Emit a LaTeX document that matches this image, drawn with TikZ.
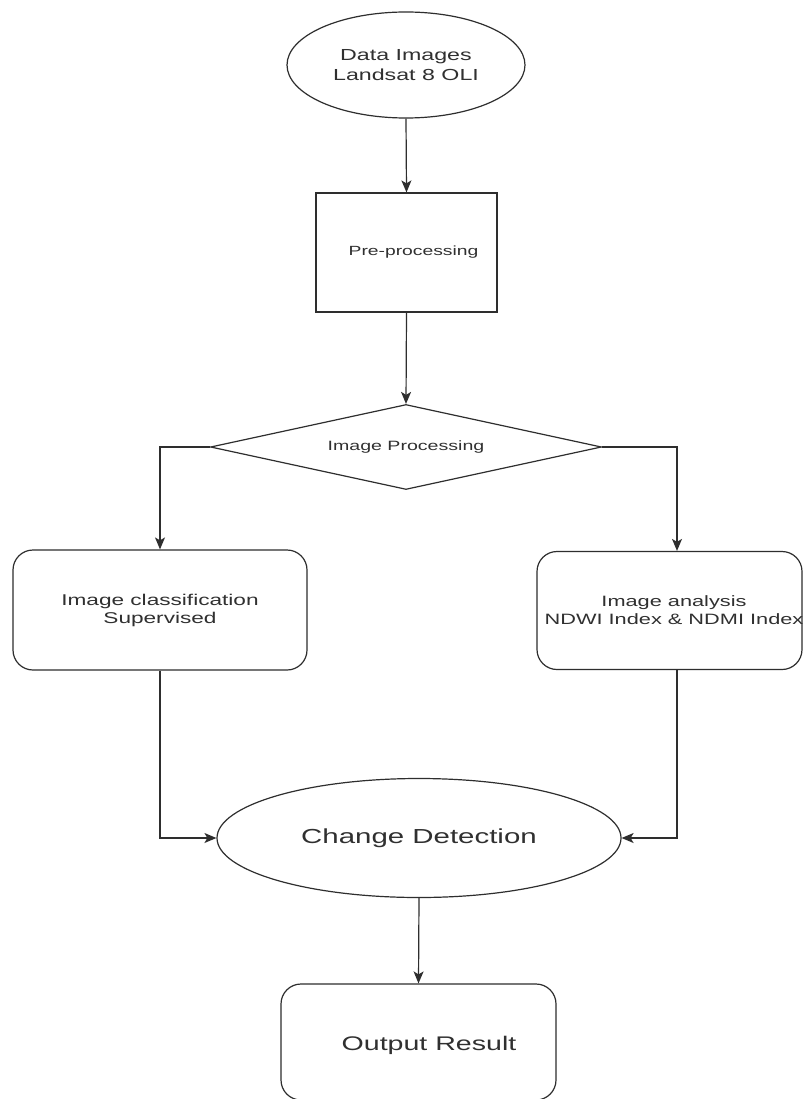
\documentclass[tikz,border=0pt]{standalone}
\usepackage{fontspec}
\setmainfont{Liberation Sans}[FakeStretch=1.45]
\usetikzlibrary{shapes.geometric,arrows.meta}
\definecolor{ink}{HTML}{2E2E2E}
\definecolor{txt}{HTML}{303030}
\tikzset{
  shp/.style={draw=ink, line width=1.2pt, fill=white, inner sep=0pt, text=txt, align=center},
  ell/.style={shp, ellipse},
  boxr/.style={shp, rectangle},
  roundbox/.style={shp, rectangle, rounded corners=20pt},
  dia/.style={shp, diamond, aspect=4.6},
  arr/.style={draw=ink, line width=1.2pt, -{Stealth[length=12pt,width=10pt,inset=3pt]}},
  lab/.style={text=txt, align=center}
}
\begin{document}
\begin{tikzpicture}[x=1pt,y=-1pt]
\useasboundingbox (0,0) rectangle (805,1099);
\fill[white] (0,0) rectangle (805,1099);

\node[ell, minimum width=238pt, minimum height=106pt, font=\fontsize{16}{20}\selectfont] (data) at (406,65) {Data Images\\Landsat 8 OLI};

\node[boxr, minimum width=181pt, minimum height=119pt,
      label={[lab, xshift=7pt, font=\fontsize{13.3}{16}\selectfont]center:Pre-processing}] (pre) at (406.5,252.5) {};

\node[dia, minimum width=391pt, minimum height=85pt, font=\fontsize{13.5}{16}\selectfont] (proc) at (406,447) {Image Processing};

\node[roundbox, minimum width=294pt, minimum height=120pt, font=\fontsize{15.6}{18}\selectfont] (cls) at (160,610) {Image classification\\Supervised};

\node[roundbox, minimum width=265pt, minimum height=118pt,
      label={[lab, xshift=4.5pt, font=\fontsize{15}{18}\selectfont]center:{Image analysis\\NDWI Index \& NDMI Index}}] (ana) at (669.5,610.5) {};

\node[ell, minimum width=404pt, minimum height=119pt, font=\fontsize{20.3}{24}\selectfont] (cd) at (419,838) {Change Detection};

\node[roundbox, minimum width=275pt, minimum height=116pt,
      label={[lab, xshift=10.5pt, yshift=-3pt, font=\fontsize{19.7}{24}\selectfont]center:Output Result}] (out) at (418.5,1042) {};

\draw[arr] (data.south) -- (pre.north);
\draw[arr] (pre.south) -- (proc.north);
\draw[arr] (proc.west) -| (cls.north);
\draw[arr] (proc.east) -| ([xshift=7.5pt]ana.north);
\draw[arr] (cls.south) |- (cd.west);
\draw[arr] ([xshift=7.5pt]ana.south) |- (cd.east);
\draw[arr] (cd.south) -- (out.north);
\end{tikzpicture}
\end{document}
